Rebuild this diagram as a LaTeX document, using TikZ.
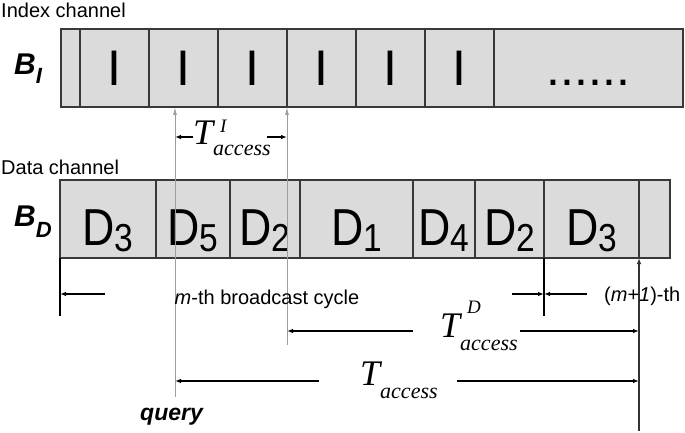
\documentclass[tikz,border=0pt]{standalone}
\usepackage{fontspec}
\setmainfont{Liberation Sans}
\newfontfamily\timesfont{Liberation Serif}
\usetikzlibrary{positioning,arrows.meta}

% T with raised index and lowered "access"
\newcommand{\acc}[3]{T\rlap{\kern7pt\raisebox{#1}{\fontsize{19}{19}\selectfont #2}}\raisebox{#3}{\fontsize{22}{22}\selectfont access}}
\newcommand{\dsub}[1]{\scalebox{0.86}[1]{D\raisebox{-6pt}{\fontsize{39}{39}\selectfont #1}}}

\begin{document}
\begin{tikzpicture}
    [x=1pt,y=-1pt,
     slot/.style={rectangle,draw=black!78,fill=black!14,line width=1.3pt,
       minimum height=78pt,inner sep=0pt,outer sep=0pt,anchor=west},
     islot/.style={slot,text height=36pt,text depth=0pt,font=\fontsize{50}{50}\selectfont},
     dslot/.style={slot,text height=52pt,text depth=0pt,font=\fontsize{52}{52}\selectfont},
     lbl/.style={inner sep=0pt,font=\fontsize{20}{24}\selectfont},
     chan/.style={inner sep=0pt,font=\fontsize{30}{30}\selectfont\bfseries\itshape},
     tlbl/.style={inner sep=0pt,anchor=base west,font=\fontsize{36}{40}\timesfont\itshape},
     guide/.style={draw=black!38,line width=1pt,-{Latex[length=8pt,width=4pt]}},
     span/.style={line width=1.1pt,-{Latex[length=6pt,width=4.5pt]}},
     tick/.style={line width=1.1pt}]

    \useasboundingbox (0,0) rectangle (685,433);

    % index channel
    \node[lbl,anchor=base west] (iname) at (1,18) {Index channel};
    \node[chan,anchor=base west] (bi) at (14,75) {B\raisebox{-9pt}{\fontsize{22}{22}\selectfont I}};

    \node[islot,minimum width=19pt] (i0) at (61,68) {};
    \node[islot,minimum width=69pt] (i1) [right=0pt of i0] {I};
    \node[islot,minimum width=69pt] (i2) [right=0pt of i1] {I};
    \node[islot,minimum width=69pt] (i3) [right=0pt of i2] {I};
    \node[islot,minimum width=69pt] (i4) [right=0pt of i3] {I};
    \node[islot,minimum width=69pt] (i5) [right=0pt of i4] {I};
    \node[islot,minimum width=69pt] (i6) [right=0pt of i5] {I};
    \node[islot,minimum width=189pt] (idots) [right=0pt of i6] {......};

    % data channel
    \node[lbl,anchor=base west] (dname) at (1,174) {Data channel};
    \node[chan,anchor=base west] (bd) at (14,226) {B\raisebox{-11pt}{\fontsize{22}{22}\selectfont D}};

    \node[dslot,minimum width=96pt] (d0) at (60,219) {\dsub{3}};
    \node[dslot,minimum width=74pt] (d1) [right=0pt of d0] {\dsub{5}};
    \node[dslot,minimum width=70pt] (d2) [right=0pt of d1] {\dsub{2}};
    \node[dslot,minimum width=113pt] (d3) [right=0pt of d2] {\dsub{1}};
    \node[dslot,minimum width=62pt] (d4) [right=0pt of d3] {\dsub{4}};
    \node[dslot,minimum width=69pt] (d5) [right=0pt of d4] {\dsub{2}};
    \node[dslot,minimum width=95pt] (d6) [right=0pt of d5] {\dsub{3}};
    \node[dslot,minimum width=31pt] (d7) [right=0pt of d6] {};

    % query and tune-in points
    \node[inner sep=0pt,anchor=base west,font=\fontsize{23}{23}\selectfont\bfseries\itshape] (query) at (140,420) {query};
    \coordinate (qfoot) at (175,397);
    \coordinate (dfoot) at (287,345);
    \coordinate (nfoot) at (639,431);
    \coordinate (c0) at (60,316);
    \coordinate (c6) at (544,316);

    \draw[guide] (qfoot) -- (qfoot |- i2.south);
    \draw[guide] (dfoot) -- (i4.south west);
    \draw[span,black!80] (nfoot) -- (d7.south west);
    \draw[tick] (d0.south west) -- (c0);
    \draw[tick] (d6.south west) -- (c6);

    % index access time
    \node[tlbl] (tidx) at (193,145) {\acc{13pt}{I}{-10pt}};
    \coordinate (f1) at (193,137);
    \coordinate (f2) at (267,137);
    \draw[span] (f1) -- (f1 -| qfoot);
    \draw[span] (f2) -- (f2 -| dfoot);

    % broadcast cycle
    \node[lbl,anchor=base] (cycle) at (267,304) {\textit{m}-th broadcast cycle};
    \node[lbl,anchor=base west] (next) at (604,301) {(\textit{m}+\textit{1})-th};
    \coordinate (a1) at (105,294);
    \coordinate (a2) at (512,294);
    \coordinate (a3) at (587,294);
    \draw[span] (a1) -- (a1 -| c0);
    \draw[span] (a2) -- (a2 -| c6);
    \draw[span] (a3) -- (a3 -| c6);

    % data access time
    \node[tlbl] (tdat) at (440,337) {\acc{24pt}{D}{-13pt}};
    \coordinate (b1) at (413,331);
    \coordinate (b2) at (520,331);
    \draw[span] (b1) -- (b1 -| dfoot);
    \draw[span] (b2) -- (b2 -| nfoot);

    % total access time
    \node[tlbl] (tall) at (360,385) {T\raisebox{-13pt}{\fontsize{22}{22}\selectfont access}};
    \coordinate (e1) at (319,381);
    \coordinate (e2) at (457,381);
    \draw[span] (e1) -- (e1 -| qfoot);
    \draw[span] (e2) -- (e2 -| nfoot);
\end{tikzpicture}
\end{document}
